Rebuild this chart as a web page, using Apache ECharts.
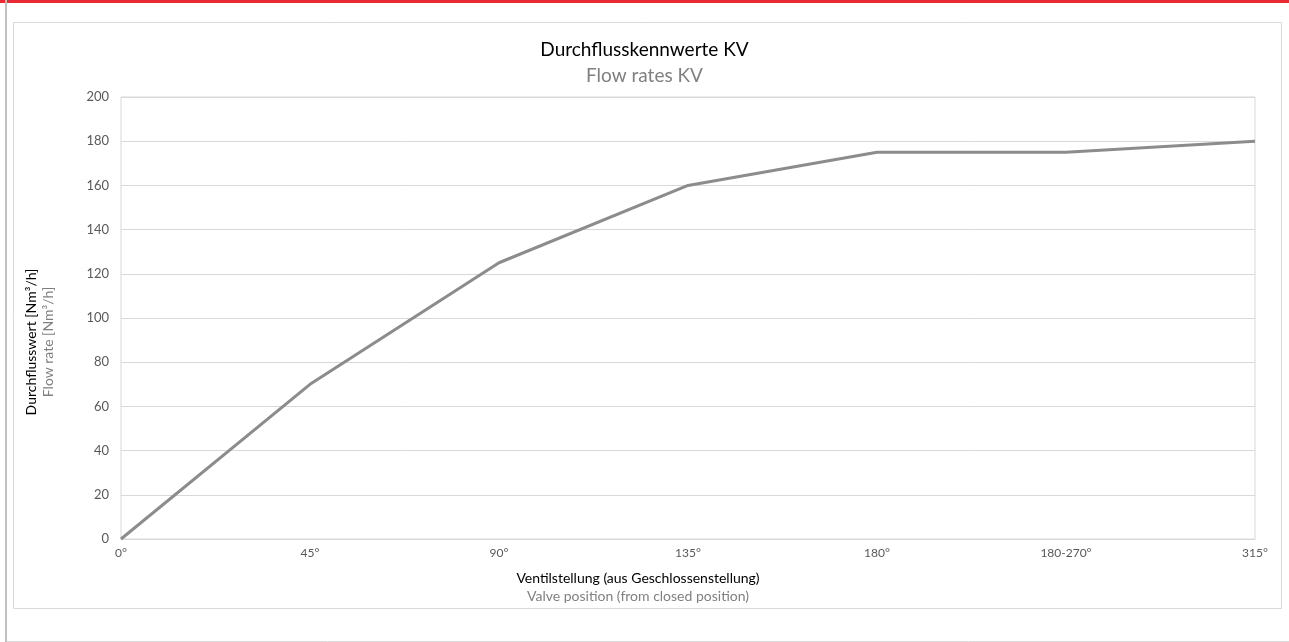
<!DOCTYPE html>
<html><head><meta charset="utf-8">
<script src="https://cdn.jsdelivr.net/npm/echarts@6/dist/echarts.min.js"></script>
<style>html,body{margin:0;padding:0;background:#fff}#c{width:1289px;height:642px}</style>
</head><body><div id="c"></div>
<script>
const categories = ['0°','45°','90°','135°','180°','180-270°','315°'];
const flowValues = [0, 70, 125, 160, 175, 175, 180];
const yTicks = [0, 20, 40, 60, 80, 100, 120, 140, 160, 180, 200];

const FONT = 'Lato, "Open Sans", sans-serif';
const chart = echarts.init(document.getElementById('c'), null, {renderer:'canvas'});
chart.setOption({
  animation: false,
  backgroundColor: '#fff',
  title: [
    {text: 'Durchflusskennwerte KV', left: 'center', top: 35,
     textStyle: {fontFamily: FONT, fontSize: 19, fontWeight: 'normal', color: '#000'}},
    {text: 'Flow rates KV', left: 'center', top: 61,
     textStyle: {fontFamily: FONT, fontSize: 19, fontWeight: 'normal', color: '#808080'}}
  ],
  grid: {left: 121, top: 97, width: 1134, height: 442, show: true, borderColor: '#d9d9d9', borderWidth: 1},
  xAxis: {
    type: 'category', data: categories, boundaryGap: false,
    axisLine: {show: true, lineStyle: {color: '#d9d9d9'}},
    axisTick: {show: false},
    axisLabel: {fontFamily: FONT, fontSize: 12, color: '#595959', margin: 8},
    splitLine: {show: false}
  },
  yAxis: {
    type: 'value', min: yTicks[0], max: yTicks[yTicks.length-1], interval: 20,
    axisLine: {show: false}, axisTick: {show: false},
    axisLabel: {fontFamily: FONT, fontSize: 13, color: '#595959', margin: 12},
    splitLine: {lineStyle: {color: '#d9d9d9', width: 1}}
  },
  series: [{
    type: 'line', data: flowValues, symbol: 'none',
    lineStyle: {color: '#8c8c8c', width: 3}
  }],
  graphic: [
    {type: 'rect', shape: {x: 0, y: 0, width: 1289, height: 3}, style: {fill: '#ea2a32'}},
    {type: 'rect', shape: {x: 5, y: 0, width: 2, height: 642}, style: {fill: '#c0c0c0'}},
    {type: 'line', shape: {x1: 7, y1: 641.5, x2: 1289, y2: 641.5}, style: {stroke: '#d9d9d9', lineWidth: 1}},
    {type: 'rect', shape: {x: 13.5, y: 22.5, width: 1268, height: 586}, style: {fill: 'none', stroke: '#d9d9d9', lineWidth: 1}, z: -1},
    {type: 'text', x: 31, y: 342, rotation: Math.PI/2, style: {text: 'Durchflusswert [Nm³/h]', fontFamily: FONT, fontSize: 14, fill: '#000', align: 'center', verticalAlign: 'middle'}},
    {type: 'text', x: 48, y: 342, rotation: Math.PI/2, style: {text: 'Flow rate [Nm³/h]', fontFamily: FONT, fontSize: 14, fill: '#808080', align: 'center', verticalAlign: 'middle'}},
    {type: 'text', x: 638, y: 578, style: {text: 'Ventilstellung (aus Geschlossenstellung)', fontFamily: FONT, fontSize: 14, fill: '#000', align: 'center', verticalAlign: 'middle'}},
    {type: 'text', x: 638, y: 596, style: {text: 'Valve position (from closed position)', fontFamily: FONT, fontSize: 14, fill: '#808080', align: 'center', verticalAlign: 'middle'}}
  ]
});
</script></body></html>
